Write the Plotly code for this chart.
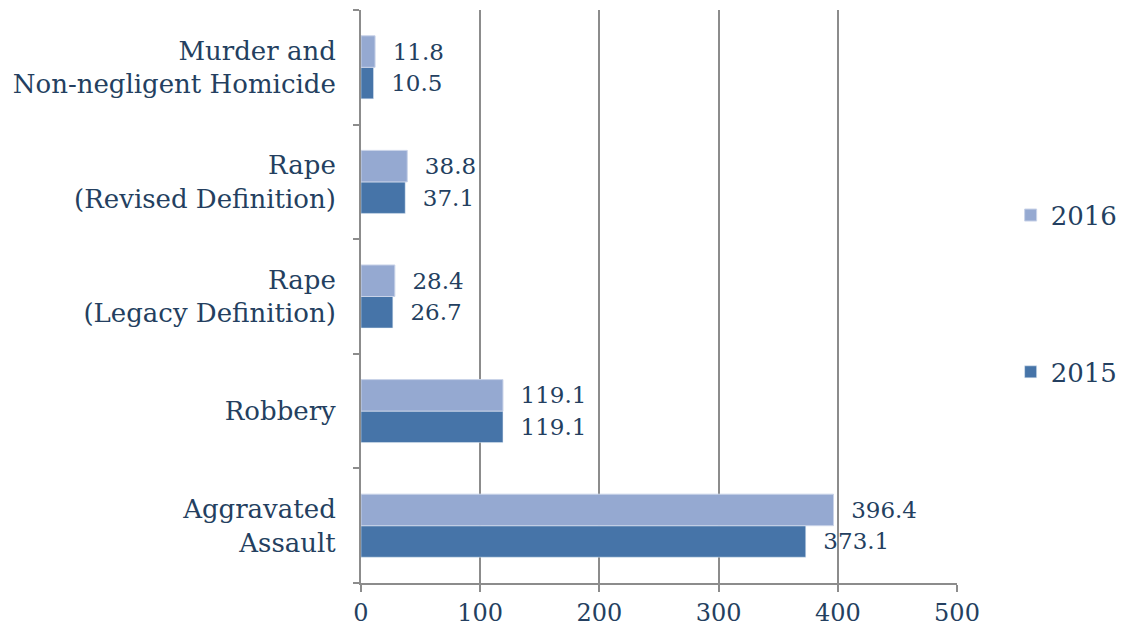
import plotly.graph_objects as go

categories = ["Murder and<br>Non-negligent Homicide", "Rape<br>(Revised Definition)",
              "Rape<br>(Legacy Definition)", "Robbery", "Aggravated<br>Assault"]
values_2016 = [11.8, 38.8, 28.4, 119.1, 396.4]
values_2015 = [10.5, 37.1, 26.7, 119.1, 373.1]
x_ticks = [0, 100, 200, 300, 400, 500]

FONT = "DejaVu Serif"
TXT = "#243F60"
GRID = "#8C8C8C"

fig = go.Figure()
fig.add_trace(go.Bar(
    y=categories, x=values_2015, name="2015", orientation="h",
    marker=dict(color="#4674A8"), legendgroup="a", legendrank=2,
    text=[f"{v:.1f}" for v in values_2015], textposition="outside",
    texttemplate="  %{text}", cliponaxis=False,
    textfont=dict(family=FONT, size=23, color=TXT),
))
fig.add_trace(go.Bar(
    y=categories, x=values_2016, name="2016", orientation="h",
    marker=dict(color="#95A9D1", line=dict(color="#C9D3E8", width=1)), legendgroup="b", legendrank=1,
    text=[f"{v:.1f}" for v in values_2016], textposition="outside",
    texttemplate="  %{text}", cliponaxis=False,
    textfont=dict(family=FONT, size=23, color=TXT),
))

fig.update_layout(
    width=1126, height=635,
    margin=dict(l=361, r=169, t=10, b=52, autoexpand=False),
    barmode="group", bargap=0.45, bargroupgap=0,
    plot_bgcolor="white", paper_bgcolor="white",
    font=dict(family=FONT, color=TXT, size=23),
    legend=dict(x=1.09, y=0.505, xanchor="left", yanchor="middle",
                traceorder="grouped", tracegroupgap=120,
                font=dict(family=FONT, size=26, color=TXT)),
)
fig.update_xaxes(
    range=[0, 500], tickvals=x_ticks, ticktext=[str(t) for t in x_ticks],
    showgrid=True, gridcolor=GRID, gridwidth=1.5,
    showline=True, linecolor=GRID, linewidth=1.5,
    ticks="outside", ticklen=7, tickcolor=GRID, tickwidth=1.5,
    tickfont=dict(family=FONT, size=24, color=TXT), zeroline=False,
    automargin=False,
)
fig.update_yaxes(
    categoryorder="array", categoryarray=categories[::-1],
    showline=True, linecolor=GRID, linewidth=2,
    ticks="outside", tickson="boundaries", ticklen=6, tickcolor=GRID, tickwidth=1.5,
    ticklabelstandoff=18,
    tickfont=dict(family=FONT, size=26, color=TXT), showgrid=False,
    automargin=False,
)
fig.write_html("out.html", config={"displayModeBar": False},
               post_script="document.body.style.margin='0';document.body.style.overflow='hidden';")
